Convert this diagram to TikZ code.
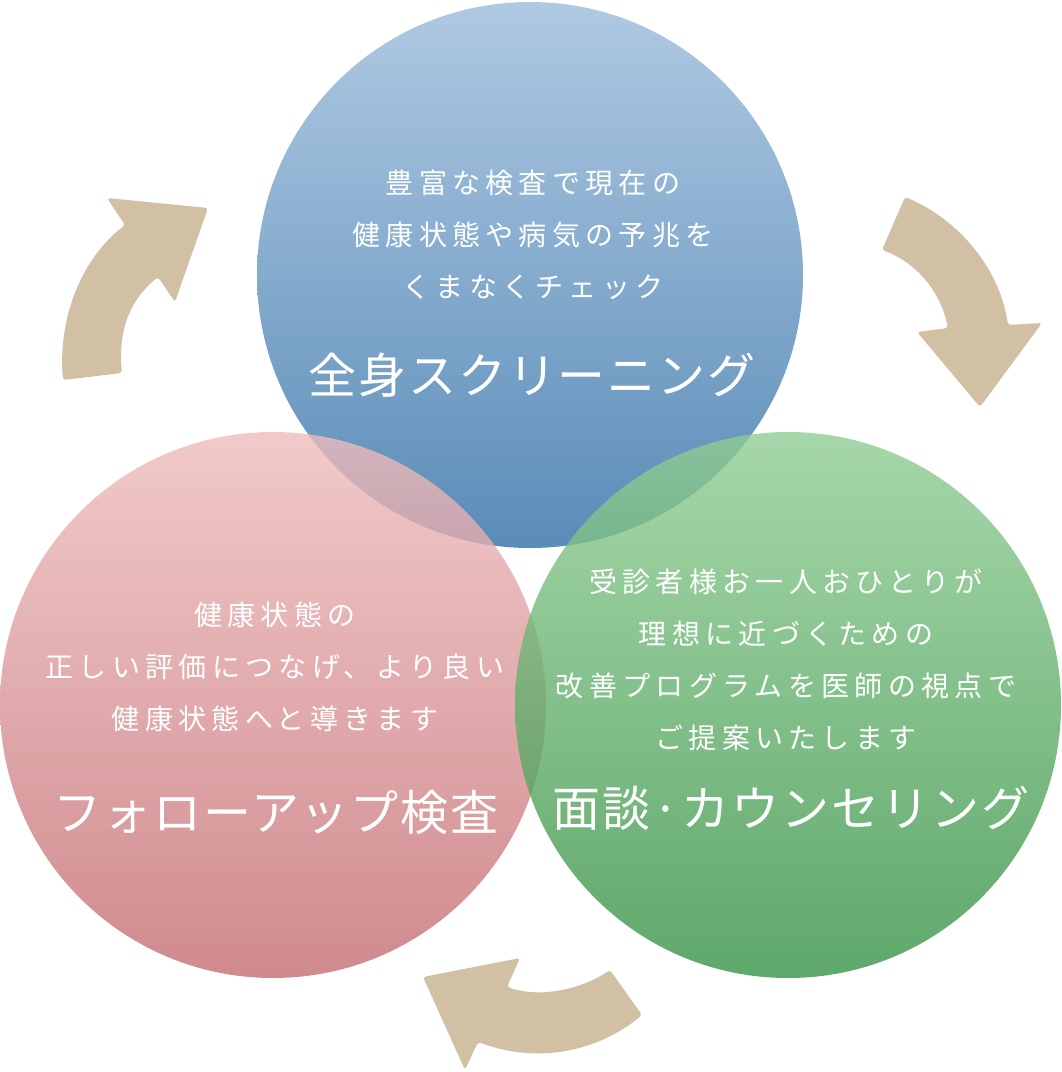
\documentclass[tikz,border=0pt]{standalone}
\usepackage{fontspec}
\newfontfamily\leadfont[LetterSpace=19]{Noto Sans CJK JP}
\newfontfamily\headfont[LetterSpace=4]{Noto Sans CJK JP}
\definecolor{blueTop}{HTML}{AFC9E2}
\definecolor{blueBot}{HTML}{5A8CB8}
\definecolor{pinkTop}{HTML}{EEBCBC}
\definecolor{pinkBot}{HTML}{C46D72}
\definecolor{greenTop}{HTML}{90CD94}
\definecolor{greenBot}{HTML}{369245}
\definecolor{arrowTan}{HTML}{D2C0A5}

\begin{document}
\begin{tikzpicture}[x=1pt,y=-1pt,
  disc/.style={fill opacity=0.8},
  turn/.style={fill=arrowTan,rounded corners=3pt},
  lead/.style={text=white,align=center,font={\leadfont\fontsize{28}{52}\selectfont}},
  headline/.style={text=white,font={\headfont\fontsize{48}{50}\selectfont}}]
  \useasboundingbox (0,0) rectangle (1062,1072);

  \coordinate (topC) at (530,275);
  \coordinate (leftC) at (273,705);
  \coordinate (rightC) at (788,705);

  \shade[top color=blueTop,bottom color=blueBot] (topC) circle[radius=273];
  \shade[disc,top color=pinkTop,bottom color=pinkBot] (leftC) circle[radius=273];
  \shade[disc,top color=greenTop,bottom color=greenBot] (rightC) circle[radius=273];

  \fill[turn] (63,380) -- (122,373)
    .. controls (118,330) and (130,300) .. (158,277)
    -- (175,302) -- (208,208) -- (107,198) -- (125,225)
    .. controls (80,260) and (58,320) .. (63,380) -- cycle;
  \fill[turn] (905,197)
    .. controls (960,220) and (1000,270) .. (1008,325)
    -- (1042,323) -- (980,407) -- (917,332) -- (948,328)
    .. controls (940,290) and (915,262) .. (882,250) -- cycle;
  \fill[turn] (610,970)
    .. controls (580,990) and (540,998) .. (507,987)
    -- (520,958) -- (423,977) -- (465,1070) -- (478,1042)
    .. controls (540,1065) and (600,1050) .. (642,1015) -- cycle;

  \node[lead] (screenTxt) at (533,235) {豊富な検査で現在の\\健康状態や病気の予兆を\\くまなくチェック};
  \node[headline] (screen) at (532,375) {全身スクリーニング};
  \node[lead] (followTxt) at (275,667) {健康状態の\\正しい評価につなげ、より良い\\健康状態へと導きます};
  \node[headline] (follow) at (276,812) {フォローアップ検査};
  \node[lead] (counselTxt) at (786,660) {受診者様お一人おひとりが\\理想に近づくための\\改善プログラムを医師の視点で\\ご提案いたします};
  \node[headline] (counsel) at (791,808) {面談·カウンセリング};
\end{tikzpicture}
\end{document}
